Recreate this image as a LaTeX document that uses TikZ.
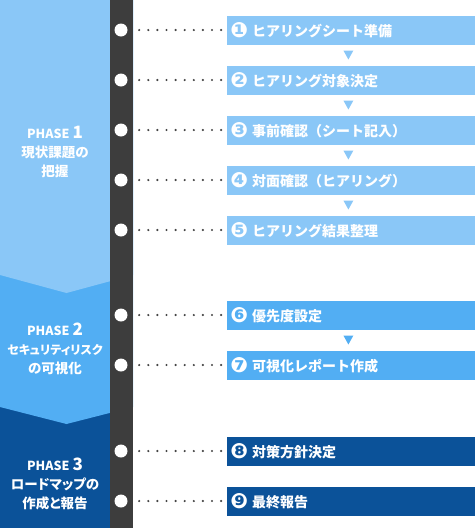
\documentclass[tikz,border=0pt]{standalone}
\usepackage{fontspec}
\setmainfont{Noto Sans CJK JP}
\newfontfamily\propfont{Noto Sans CJK JP}[RawFeature=+palt]
\newfontfamily\numfont{DejaVu Sans}
\usepackage{tikz}
\usetikzlibrary{calc,positioning}
\definecolor{PhaseOne}{HTML}{8AC7F7}
\definecolor{PhaseTwo}{HTML}{52AEF3}
\definecolor{PhaseThree}{HTML}{0B5299}
\definecolor{BarGray}{HTML}{3D3D3D}
\definecolor{DotGray}{HTML}{444444}
\tikzset{
  dot/.style={circle, fill=white, minimum size=13pt, inner sep=0pt},
  dotline/.style={draw=DotGray, line width=2.4pt, line cap=round, dash pattern=on 0pt off 9.1pt, shorten <=11.5pt, shorten >=6pt},
  stepbox/.style={rectangle, minimum width=248pt, minimum height=29pt, text width=242pt, inner xsep=3pt, inner ysep=0pt, align=left, text=white, font=\bfseries\fontsize{14}{16}\selectfont},
  phase/.style={text=white, align=center, font=\propfont\bfseries\fontsize{13.5}{19}\selectfont},
  boxA/.style={stepbox, fill=PhaseOne},
  boxB/.style={stepbox, fill=PhaseTwo},
  boxC/.style={stepbox, fill=PhaseThree}
}
\newcommand{\num}[1]{\raisebox{-1pt}{\numfont\fontsize{21}{16}\selectfont #1}\hspace{4pt}}
\newcommand{\phs}[1]{{\fontsize{12.5}{19}\selectfont PHASE} {\fontsize{17}{19}\selectfont #1}}

\begin{document}
\begin{tikzpicture}[x=1pt, y=-1pt]
    \useasboundingbox (0,0) rectangle (476,528);
    % phase bands
    \fill [PhaseThree] (0,0) rectangle (133,528);
    \fill [PhaseTwo] (0,0) -- (133,0) -- (133,407) -- (66.5,424) -- (0,407) -- cycle;
    \fill [PhaseOne] (0,0) -- (133,0) -- (133,275) -- (66.5,293) -- (0,275) -- cycle;
    \fill [BarGray] (110,0) rectangle (133,528);
    \node [phase] (ph1) at (55,152) {\phs{1}\\現状課題の\\把握};
    \node [phase] (ph2) at (55,349) {\phs{2}\\{\fontsize{12}{19}\selectfont セキュリティリスク}\\の可視化};
    \node [phase] (ph3) at (55,484) {\phs{3}\\ロードマップの\\作成と報告};
    % timeline points
    \node [dot] (c1) at (121,30) {};
    \node [dot] (c2) at (121,80) {};
    \node [dot] (c3) at (121,130) {};
    \node [dot] (c4) at (121,180) {};
    \node [dot] (c5) at (121,230) {};
    \node [dot] (c6) at (121,315) {};
    \node [dot] (c7) at (121,365) {};
    \node [dot] (c8) at (121,451) {};
    \node [dot] (c9) at (121,501) {};
    % steps
    \node [boxA, right=99.5pt of c1] (b1) {\num{❶}ヒアリングシート準備};
    \node [boxA, right=99.5pt of c2] (b2) {\num{❷}ヒアリング対象決定};
    \node [boxA, right=99.5pt of c3] (b3) {\num{❸}事前確認（シート記入）};
    \node [boxA, right=99.5pt of c4] (b4) {\num{❹}対面確認（ヒアリング）};
    \node [boxA, right=99.5pt of c5] (b5) {\num{❺}ヒアリング結果整理};
    \node [boxB, right=99.5pt of c6] (b6) {\num{❻}優先度設定};
    \node [boxB, right=99.5pt of c7] (b7) {\num{❼}可視化レポート作成};
    \node [boxC, right=99.5pt of c8] (b8) {\num{❽}対策方針決定};
    \node [boxC, right=99.5pt of c9] (b9) {\num{❾}最終報告};
    \foreach \i in {1,...,9}
        \draw [dotline] (c\i) -- (b\i);
    % arrows between steps
    \foreach \a/\b/\col in {b1/b2/PhaseOne, b2/b3/PhaseOne, b3/b4/PhaseOne, b4/b5/PhaseOne, b6/b7/PhaseTwo}
        \fill [\col] ($(\a.south)!0.5!(\b.north)+(-3,0)$) ++(-5,-4.5) -- ++(10,0) -- ++(-5,9) -- cycle;
\end{tikzpicture}
\end{document}
